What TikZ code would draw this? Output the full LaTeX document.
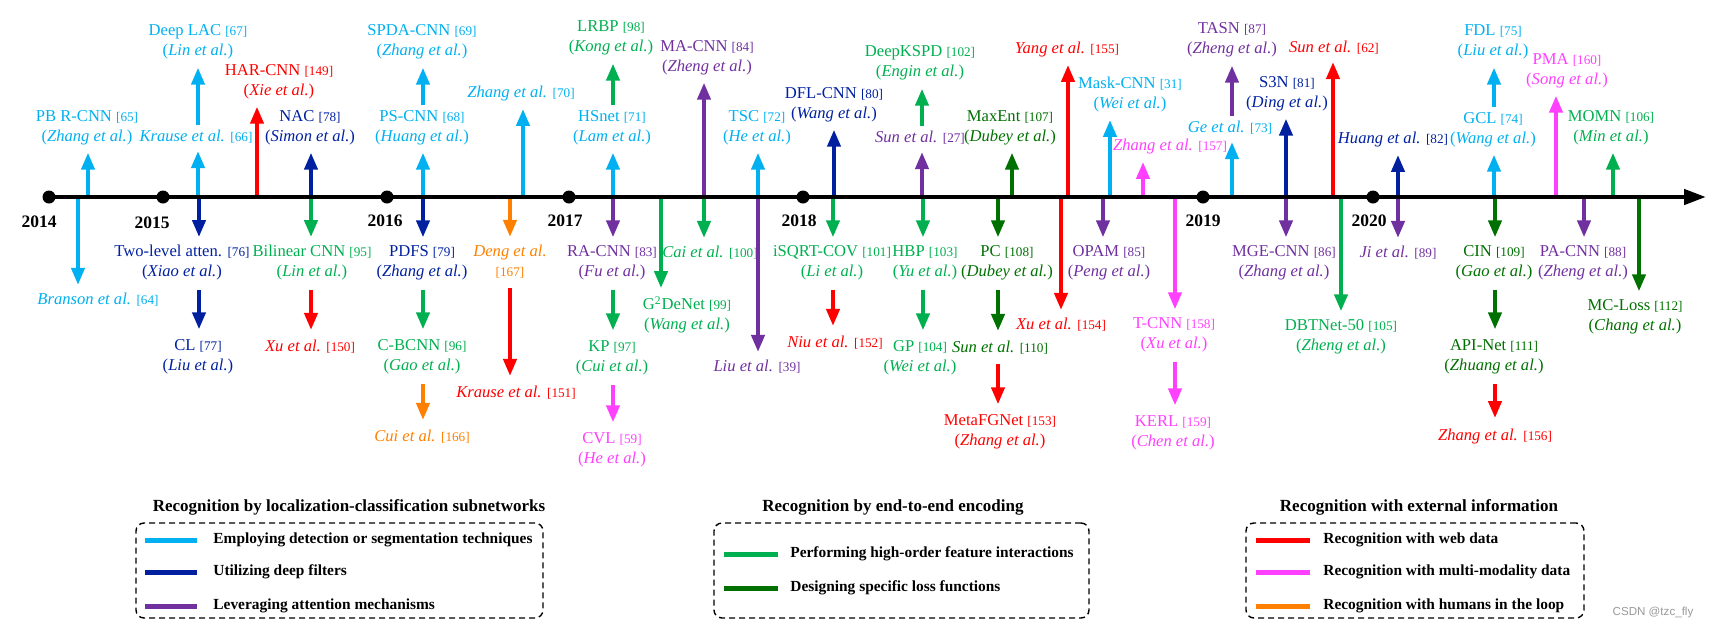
\documentclass[tikz,border=0pt]{standalone}
\usepackage{fontspec}
\setmainfont{Liberation Serif}
\newfontfamily\wmfont{Liberation Sans}
\usetikzlibrary{arrows.meta}

\definecolor{ccyan}{RGB}{0,176,240}
\definecolor{cblue}{RGB}{0,32,160}
\definecolor{cpurple}{RGB}{112,48,160}
\definecolor{cgreen}{RGB}{0,176,80}
\definecolor{cdgreen}{RGB}{0,112,0}
\definecolor{cred}{RGB}{255,0,0}
\definecolor{cmag}{RGB}{255,64,255}
\definecolor{corange}{RGB}{255,128,0}

\newcommand{\rf}[1]{{\fontsize{6.6}{8}\selectfont[#1]}}
\newcommand{\au}[1]{(\textit{#1 et al.})}
\newcommand{\ea}[1]{\textit{#1 et al.}}

\tikzset{
  lab/.style={align=center,inner sep=0pt,font=\fontsize{8.3}{10}\selectfont},
  yr/.style={inner sep=0pt,font=\fontsize{8.75}{10}\selectfont\bfseries},
  ydot/.style={circle,fill=black,inner sep=0pt,minimum size=6.5pt},
  tl/.style={line width=2pt,-{Triangle[width=6.5pt,length=8.5pt]}},
  up/.style={tl,shorten >=3.5pt},
  dn/.style={tl,shorten >=4pt},
  chu/.style={tl,shorten <=2.5pt,shorten >=4pt},
  chd/.style={tl,shorten <=4.5pt,shorten >=5pt},
  legbox/.style={draw,dashed,dash pattern=on 3pt off 2pt,line width=0.7pt,rounded corners=4pt,minimum height=47.5pt,inner sep=0pt},
  legtitle/.style={inner sep=0pt,font=\fontsize{8.5}{10}\selectfont\bfseries},
  legtxt/.style={inner sep=0pt,anchor=west,font=\fontsize{7.7}{9}\selectfont\bfseries},
  sw/.style={line width=2.5pt}
}

\begin{document}
\begin{tikzpicture}[x=0.5pt,y=-0.5pt]
      \useasboundingbox (0,0) rectangle (1710,628);

      \node[lab,ccyan] (n65) at (87,128) {PB R-CNN \rf{65}\\\au{Zhang}};
      \node[lab,ccyan] (n66) at (196,137) {\ea{Krause} \rf{66}};
      \node[lab,ccyan] (n67) at (198,42) {Deep LAC \rf{67}\\\au{Lin}};
      \node[lab,cred] (n149) at (279,82) {HAR-CNN \rf{149}\\\au{Xie}};
      \node[lab,cblue] (n78) at (310,128) {NAC \rf{78}\\\au{Simon}};
      \node[lab,ccyan] (n68) at (422,128) {PS-CNN \rf{68}\\\au{Huang}};
      \node[lab,ccyan] (n69) at (422,42) {SPDA-CNN \rf{69}\\\au{Zhang}};
      \node[lab,ccyan] (n70) at (521,94) {\ea{Zhang} \rf{70}};
      \node[lab,ccyan] (n71) at (612,128) {HSnet \rf{71}\\\au{Lam}};
      \node[lab,cgreen] (n98) at (611,38) {LRBP \rf{98}\\\au{Kong}};
      \node[lab,cpurple] (n84) at (707,58) {MA-CNN \rf{84}\\\au{Zheng}};
      \node[lab,ccyan] (n72) at (757,128) {TSC \rf{72}\\\au{He}};
      \node[lab,cblue] (n80) at (834,105) {DFL-CNN \rf{80}\\\au{Wang}};
      \node[lab,cpurple] (n27) at (920,138) {\ea{Sun} \rf{27}};
      \node[lab,cgreen] (n102) at (920,63) {DeepKSPD \rf{102}\\\au{Engin}};
      \node[lab,cdgreen] (n107) at (1010,128) {MaxEnt \rf{107}\\\au{Dubey}};
      \node[lab,cred] (n155) at (1067,50) {\ea{Yang} \rf{155}};
      \node[lab,ccyan] (n31) at (1130,95) {Mask-CNN \rf{31}\\\au{Wei}};
      \node[lab,cmag] (n157) at (1170,147) {\ea{Zhang} \rf{157}};
      \node[lab,ccyan] (n73) at (1230,128) {\ea{Ge} \rf{73}};
      \node[lab,cpurple] (n87) at (1232,40) {TASN \rf{87}\\\au{Zheng}};
      \node[lab,cblue] (n81) at (1287,94) {S3N \rf{81}\\\au{Ding}};
      \node[lab,cred] (n62) at (1334,48) {\ea{Sun} \rf{62}};
      \node[lab,cblue] (n82) at (1393,140) {\ea{Huang} \rf{82}};
      \node[lab,ccyan] (n74) at (1493,130) {GCL \rf{74}\\\au{Wang}};
      \node[lab,ccyan] (n75) at (1493,42) {FDL \rf{75}\\\au{Liu}};
      \node[lab,cmag] (n160) at (1567,71) {PMA \rf{160}\\\au{Song}};
      \node[lab,cgreen] (n106) at (1611,128) {MOMN \rf{106}\\\au{Min}};

      \node[lab,ccyan] (n64) at (98,300) {\ea{Branson} \rf{64}};
      \node[lab,cblue] (n76) at (182,263) {Two-level atten. \rf{76}\\\au{Xiao}};
      \node[lab,cblue] (n77) at (198,357) {CL \rf{77}\\\au{Liu}};
      \node[lab,cgreen] (n95) at (312,263) {Bilinear CNN \rf{95}\\\au{Lin}};
      \node[lab,cred] (n150) at (310,347) {\ea{Xu} \rf{150}};
      \node[lab,cblue] (n79) at (422,263) {PDFS \rf{79}\\\au{Zhang}};
      \node[lab,cgreen] (n96) at (422,357) {C-BCNN \rf{96}\\\au{Gao}};
      \node[lab,corange] (n166) at (422,437) {\ea{Cui} \rf{166}};
      \node[lab,corange] (n167) at (510,262) {\ea{Deng}\\\rf{167}};
      \node[lab,cred] (n151) at (516,393) {\ea{Krause} \rf{151}};
      \node[lab,cpurple] (n83) at (612,263) {RA-CNN \rf{83}\\\au{Fu}};
      \node[lab,cgreen] (n97) at (612,358) {KP \rf{97}\\\au{Cui}};
      \node[lab,cmag] (n59) at (612,450) {CVL \rf{59}\\\au{He}};
      \node[lab,cgreen] (n99) at (687,315) {G\textsuperscript{2}DeNet \rf{99}\\\au{Wang}};
      \node[lab,cgreen] (n100) at (710,253) {\ea{Cai} \rf{100}};
      \node[lab,cpurple] (n39) at (757,367) {\ea{Liu} \rf{39}};
      \node[lab,cgreen] (n101) at (832,263) {iSQRT-COV \rf{101}\\\au{Li}};
      \node[lab,cred] (n152) at (835,343) {\ea{Niu} \rf{152}};
      \node[lab,cgreen] (n103) at (925,263) {HBP \rf{103}\\\au{Yu}};
      \node[lab,cgreen] (n104) at (920,358) {GP \rf{104}\\\au{Wei}};
      \node[lab,cdgreen] (n108) at (1007,263) {PC \rf{108}\\\au{Dubey}};
      \node[lab,cdgreen] (n110) at (1000,348) {\ea{Sun} \rf{110}};
      \node[lab,cred] (n153) at (1000,432) {MetaFGNet \rf{153}\\\au{Zhang}};
      \node[lab,cred] (n154) at (1061,325) {\ea{Xu} \rf{154}};
      \node[lab,cpurple] (n85) at (1109,263) {OPAM \rf{85}\\\au{Peng}};
      \node[lab,cmag] (n158) at (1174,335) {T-CNN \rf{158}\\\au{Xu}};
      \node[lab,cmag] (n159) at (1173,433) {KERL \rf{159}\\\au{Chen}};
      \node[lab,cpurple] (n86) at (1284,263) {MGE-CNN \rf{86}\\\au{Zhang}};
      \node[lab,cgreen] (n105) at (1341,337) {DBTNet-50 \rf{105}\\\au{Zheng}};
      \node[lab,cpurple] (n89) at (1398,253) {\ea{Ji} \rf{89}};
      \node[lab,cdgreen] (n109) at (1494,263) {CIN \rf{109}\\\au{Gao}};
      \node[lab,cdgreen] (n111) at (1494,357) {API-Net \rf{111}\\\au{Zhuang}};
      \node[lab,cred] (n156) at (1495,436) {\ea{Zhang} \rf{156}};
      \node[lab,cpurple] (n88) at (1583,263) {PA-CNN \rf{88}\\\au{Zheng}};
      \node[lab,cdgreen] (n112) at (1635,317) {MC-Loss \rf{112}\\\au{Chang}};

      \foreach \r/\x in {65/88,66/198,149/257,78/311,68/423,70/523,71/613,84/704,72/758,80/834,27/922,
        107/1012,155/1068,31/1110,157/1143,73/1232,81/1286,62/1333,82/1398,74/1494,160/1556,106/1613,
        64/78,76/199,95/311,79/423,167/510,83/613,99/661,100/704,39/758,101/833,103/923,108/998,
        154/1061,85/1103,158/1175,86/1286,105/1341,89/1398,109/1495,88/1584,112/1639}
        \coordinate (t\r) at (\x,197);

      \path [up,ccyan](t65) edge (n65.south -| t65);
      \path [up,ccyan](t66) edge (n66.south -| t66);
      \path [up,cred](t149) edge (n149.south -| t149);
      \path [up,cblue](t78) edge (n78.south -| t78);
      \path [up,ccyan](t68) edge (n68.south -| t68);
      \path [up,ccyan](t70) edge (n70.south -| t70);
      \path [up,ccyan](t71) edge (n71.south -| t71);
      \path [up,cpurple](t84) edge (n84.south -| t84);
      \path [up,ccyan](t72) edge (n72.south -| t72);
      \path [up,cblue](t80) edge (n80.south -| t80);
      \path [up,cpurple](t27) edge (n27.south -| t27);
      \path [up,cdgreen](t107) edge (n107.south -| t107);
      \path [up,cred](t155) edge (n155.south -| t155);
      \path [up,ccyan](t31) edge (n31.south -| t31);
      \path [up,cmag](t157) edge (n157.south -| t157);
      \path [up,ccyan](t73) edge (n73.south -| t73);
      \path [up,cblue](t81) edge (n81.south -| t81);
      \path [up,cred](t62) edge (n62.south -| t62);
      \path [up,cblue](t82) edge (n82.south -| t82);
      \path [up,ccyan](t74) edge (n74.south -| t74);
      \path [up,cmag](t160) edge (n160.south -| t160);
      \path [up,cgreen](t106) edge (n106.south -| t106);

      \path [chu,ccyan](n66.north -| t66) edge (n67.south -| t66);
      \path [chu,ccyan](n68.north -| t68) edge (n69.south -| t68);
      \path [chu,cgreen](n71.north -| t71) edge (n98.south -| t71);
      \path [chu,cgreen](n27.north -| t27) edge (n102.south -| t27);
      \path [chu,cpurple](n73.north -| t73) edge (n87.south -| t73);
      \path [chu,ccyan](n74.north -| t74) edge (n75.south -| t74);

      \path [dn,ccyan](t64) edge (n64.north -| t64);
      \path [dn,cblue](t76) edge (n76.north -| t76);
      \path [dn,cgreen](t95) edge (n95.north -| t95);
      \path [dn,cblue](t79) edge (n79.north -| t79);
      \path [dn,corange](t167) edge (n167.north -| t167);
      \path [dn,cpurple](t83) edge (n83.north -| t83);
      \path [dn,cgreen](t99) edge (n99.north -| t99);
      \path [dn,cgreen](t100) edge (n100.north -| t100);
      \path [dn,cpurple](t39) edge (n39.north -| t39);
      \path [dn,cgreen](t101) edge (n101.north -| t101);
      \path [dn,cgreen](t103) edge (n103.north -| t103);
      \path [dn,cdgreen](t108) edge (n108.north -| t108);
      \path [dn,cred](t154) edge (n154.north -| t154);
      \path [dn,cpurple](t85) edge (n85.north -| t85);
      \path [dn,cmag](t158) edge (n158.north -| t158);
      \path [dn,cpurple](t86) edge (n86.north -| t86);
      \path [dn,cgreen](t105) edge (n105.north -| t105);
      \path [dn,cpurple](t89) edge (n89.north -| t89);
      \path [dn,cdgreen](t109) edge (n109.north -| t109);
      \path [dn,cpurple](t88) edge (n88.north -| t88);
      \path [dn,cdgreen](t112) edge (n112.north -| t112);

      \path [chd,cblue](n76.south -| t76) edge (n77.north -| t76);
      \path [chd,cred](n95.south -| t95) edge (n150.north -| t95);
      \path [chd,cgreen](n79.south -| t79) edge (n96.north -| t79);
      \path [chd,corange](n96.south -| t79) edge (n166.north -| t79);
      \path [chd,cred](n167.south -| t167) edge (n151.north -| t167);
      \path [chd,cgreen](n83.south -| t83) edge (n97.north -| t83);
      \path [chd,cmag](n97.south -| t83) edge (n59.north -| t83);
      \path [chd,cred](n101.south -| t101) edge (n152.north -| t101);
      \path [chd,cgreen](n103.south -| t103) edge (n104.north -| t103);
      \path [chd,cdgreen](n108.south -| t108) edge (n110.north -| t108);
      \path [chd,cred](n110.south -| t108) edge (n153.north -| t108);
      \path [chd,cmag](n158.south -| t158) edge (n159.north -| t158);
      \path [chd,cdgreen](n109.south -| t109) edge (n111.north -| t109);
      \path [chd,cred](n111.south -| t109) edge (n156.north -| t109);

      \coordinate (tstart) at (49,197);
      \coordinate (tend) at (1706,197);
      \draw[line width=2.2pt,-{Triangle[width=7.5pt,length=11pt]}] (tstart) -- (tend);

      \node[ydot] (d2014) at (49,197) {};
      \node[ydot] (d2015) at (163,197) {};
      \node[ydot] (d2016) at (387,197) {};
      \node[ydot] (d2017) at (569,197) {};
      \node[ydot] (d2018) at (803,197) {};
      \node[ydot] (d2019) at (1203,197) {};
      \node[ydot] (d2020) at (1373,197) {};

      \node[yr] (y2014) at (39,222) {2014};
      \node[yr] (y2015) at (152,223) {2015};
      \node[yr] (y2016) at (385,221) {2016};
      \node[yr] (y2017) at (565,221) {2017};
      \node[yr] (y2018) at (799,221) {2018};
      \node[yr] (y2019) at (1203,221) {2019};
      \node[yr] (y2020) at (1369,221) {2020};

      \node[legtitle] (lt1) at (349,507) {Recognition by localization-classification subnetworks};
      \node[legbox,minimum width=203.5pt] (L1) at (339.5,570.5) {};
      \node[legtxt] (le1) at (213,540) {Employing detection or segmentation techniques};
      \node[legtxt] (le2) at (213,572) {Utilizing deep filters};
      \node[legtxt] (le3) at (213,606) {Leveraging attention mechanisms};
      \draw[sw,ccyan] (145,540) -- (197,540);
      \draw[sw,cblue] (145,572) -- (197,572);
      \draw[sw,cpurple] (145,606) -- (197,606);

      \node[legtitle] (lt2) at (893,507) {Recognition by end-to-end encoding};
      \node[legbox,minimum width=187.5pt] (L2) at (901.5,570.5) {};
      \node[legtxt] (le4) at (790,554) {Performing high-order feature interactions};
      \node[legtxt] (le5) at (790,588) {Designing specific loss functions};
      \draw[sw,cgreen] (724,554) -- (778,554);
      \draw[sw,cdgreen] (724,588) -- (778,588);

      \node[legtitle] (lt3) at (1419,507) {Recognition with external information};
      \node[legbox,minimum width=169pt] (L3) at (1415,570.5) {};
      \node[legtxt] (le6) at (1323,540) {Recognition with web data};
      \node[legtxt] (le7) at (1323,572) {Recognition with multi-modality data};
      \node[legtxt] (le8) at (1323,606) {Recognition with humans in the loop};
      \draw[sw,cred] (1256,540) -- (1310,540);
      \draw[sw,cmag] (1256,572) -- (1310,572);
      \draw[sw,corange] (1256,606) -- (1310,606);

      \node[inner sep=0pt,text=black!40,font=\wmfont\fontsize{5.8}{7}\selectfont] (wm) at (1653,612) {CSDN @tzc\_fly};
  \end{tikzpicture}
\end{document}
